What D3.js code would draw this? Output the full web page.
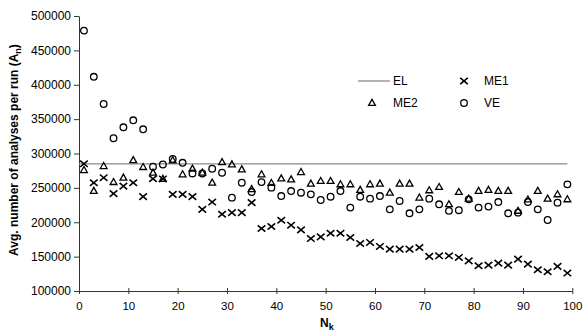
<!DOCTYPE html>
<html>
<head>
<meta charset="utf-8">
<script src="https://cdn.jsdelivr.net/npm/d3@7"></script>
<style>
  body { margin: 0; background: #fff; }
  svg text { font-family: "Liberation Sans", Arial, sans-serif; fill: #000; }
  .axis path, .axis line { stroke: #333; }
</style>
</head>
<body>
<div id="chart"></div>
<script>
// N_k values (odd runs)
const nk = [1, 3, 5, 7, 9, 11, 13, 15, 17, 19, 21, 23, 25, 27, 29, 31, 33, 35, 37, 39,
  41, 43, 45, 47, 49, 51, 53, 55, 57, 59, 61, 63, 65, 67, 69, 71, 73, 75, 77, 79,
  81, 83, 85, 87, 89, 91, 93, 95, 97, 99];

const me1 = [285000, 257500, 264800, 241600, 252600, 257500, 237200, 263300, 263000, 240600,
  240600, 237200, 218800, 229400, 211600, 214000, 214000, 228500, 190900, 193800,
  202900, 195700, 188900, 176300, 178700, 184000, 184000, 177800, 169100, 170600,
  164800, 160900, 160900, 160900, 163300, 150300, 151200, 151200, 148800, 143900,
  136700, 137700, 140600, 137700, 146400, 139100, 130900, 128000, 135800, 126100];

const me2 = [275800, 245400, 281600, 258400, 264800, 290300, 280200, 272000, 263000, 290000,
  269600, 277800, 272000, 257500, 287400, 284100, 276800, 248000, 269600, 257000,
  263700, 262300, 272900, 256100, 259900, 259900, 255100, 255100, 246900, 255100,
  256100, 243000, 256100, 256100, 235800, 246400, 251200, 226100, 243900, 234300,
  245400, 246900, 245400, 245400, 216600, 233000, 245400, 234300, 240600, 233300];

const ve = [478700, 411600, 372000, 322200, 338100, 348300, 335200, 280700, 284000, 292000,
  286500, 271000, 271000, 277800, 272000, 235800, 257500, 243900, 258400, 250300,
  238100, 245400, 243000, 240600, 232400, 237200, 245400, 221300, 237200, 234300,
  238100, 218800, 230900, 213000, 218800, 234300, 226100, 216600, 217500, 233300,
  221300, 222800, 229400, 213000, 214000, 229400, 218800, 203300, 228500, 255100];

// EL is a constant level
const elRange = [0, 99];
const elValue = 285000;

const xTicks = [0, 10, 20, 30, 40, 50, 60, 70, 80, 90, 100];
const yTicks = [100000, 150000, 200000, 250000, 300000, 350000, 400000, 450000, 500000];

const W = 584, H = 334;
const margin = { top: 16, right: 12, bottom: 43, left: 79 };
const width = 572.3 - margin.left;
const height = H - margin.top - margin.bottom;

const svg = d3.select("#chart").append("svg")
  .attr("width", W).attr("height", H);

const g = svg.append("g")
  .attr("transform", "translate(" + margin.left + "," + margin.top + ")");

const x = d3.scaleLinear().domain([0, 100]).range([0, width]);
const y = d3.scaleLinear().domain([100000, 500000]).range([height, 0]);

// axes
const xAxis = d3.axisBottom(x).tickValues(xTicks).tickSize(3).tickSizeOuter(0);
const yAxis = d3.axisLeft(y).tickValues(yTicks).tickSize(5).tickSizeOuter(0)
  .tickFormat(d3.format("d"));

const gx = g.append("g").attr("class", "axis")
  .attr("transform", "translate(0," + height + ")")
  .call(xAxis);
gx.selectAll(".tick line").attr("y1", -3);
gx.selectAll("text").style("font-size", "11.5px").attr("dy", "1.1em");

const gy = g.append("g").attr("class", "axis").call(yAxis);
gy.selectAll("text").style("font-size", "12px").attr("x", -8);

// EL line
g.append("line")
  .attr("x1", x(elRange[0])).attr("x2", x(elRange[1]))
  .attr("y1", y(elValue)).attr("y2", y(elValue))
  .attr("stroke", "#8a8a8a").attr("stroke-width", 1.3);

const markStroke = 1.3;

function cross(sel) {
  sel.attr("d", "M-3.8,-3.2L3.8,3.2M-3.8,3.2L3.8,-3.2")
    .attr("fill", "none").attr("stroke", "#000").attr("stroke-width", 1.6);
}
function tri(sel) {
  sel.attr("d", "M0,-3.6L3.4,2.4L-3.4,2.4Z")
    .attr("fill", "none").attr("stroke", "#000").attr("stroke-width", markStroke);
}

// ME2 triangles
g.selectAll("path.me2").data(nk).enter().append("path")
  .attr("class", "me2")
  .attr("transform", (d, i) => "translate(" + x(d) + "," + y(me2[i]) + ")")
  .call(tri);

// VE circles
g.selectAll("circle.ve").data(nk).enter().append("circle")
  .attr("class", "ve")
  .attr("cx", d => x(d))
  .attr("cy", (d, i) => y(ve[i]))
  .attr("r", 3.3)
  .attr("fill", "none").attr("stroke", "#000").attr("stroke-width", markStroke);

// ME1 crosses
g.selectAll("path.me1").data(nk).enter().append("path")
  .attr("class", "me1")
  .attr("transform", (d, i) => "translate(" + x(d) + "," + y(me1[i]) + ")")
  .call(cross);

// axis titles
svg.append("text")
  .attr("transform", "translate(18,150) rotate(-90)")
  .attr("text-anchor", "middle")
  .style("font-size", "12px").style("font-weight", "bold")
  .html('Avg. number of analyses per run (A<tspan font-size="9px" dy="3">n</tspan><tspan dy="-3">)</tspan>');

svg.append("text")
  .attr("x", 320).attr("y", 327)
  .style("font-size", "12px").style("font-weight", "bold")
  .html('N<tspan font-size="9px" dy="3">k</tspan>');

// legend
const leg = svg.append("g");
leg.append("line").attr("x1", 358).attr("x2", 390).attr("y1", 81).attr("y2", 81)
  .attr("stroke", "#8a8a8a").attr("stroke-width", 1.3);
leg.append("text").attr("x", 393).attr("y", 85).style("font-size", "12px").text("EL");
leg.append("path").attr("transform", "translate(464,81)").call(cross);
leg.append("text").attr("x", 484).attr("y", 85).style("font-size", "12px").text("ME1");
leg.append("path").attr("transform", "translate(372,103)").call(tri);
leg.append("text").attr("x", 393).attr("y", 107).style("font-size", "12px").text("ME2");
leg.append("circle").attr("cx", 464).attr("cy", 103).attr("r", 3.3)
  .attr("fill", "none").attr("stroke", "#000").attr("stroke-width", markStroke);
leg.append("text").attr("x", 484).attr("y", 107).style("font-size", "12px").text("VE");
</script>
</body>
</html>
